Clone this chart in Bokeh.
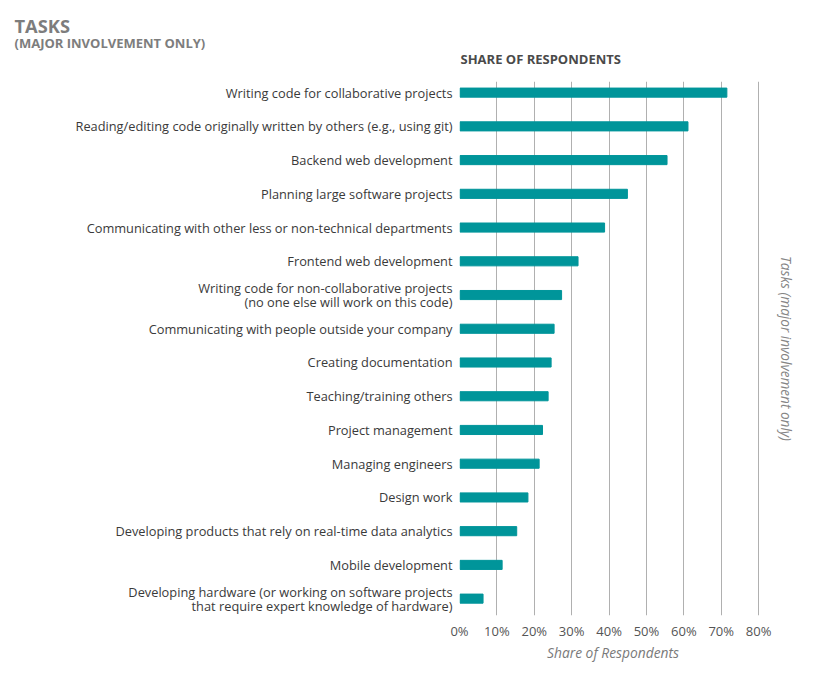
from bokeh.plotting import figure
from bokeh.layouts import column
from bokeh.models import Range1d, FixedTicker, LinearAxis, Label
from bokeh.embed import file_html
from bokeh.resources import INLINE

tasks = [
    "Writing code for collaborative projects",
    "Reading/editing code originally written by others (e.g., using git)",
    "Backend web development",
    "Planning large software projects",
    "Communicating with other less or non-technical departments",
    "Frontend web development",
    "Writing code for non-collaborative projects\n(no one else will work on this code)",
    "Communicating with people outside your company",
    "Creating documentation",
    "Teaching/training others",
    "Project management",
    "Managing engineers",
    "Design work",
    "Developing products that rely on real-time data analytics",
    "Mobile development",
    "Developing hardware (or working on software projects\nthat require expert knowledge of hardware)",
]
shares = [71.5, 61.1, 55.5, 44.9, 38.8, 31.7, 27.3, 25.3, 24.5, 23.7, 22.2, 21.3, 18.3, 15.3, 11.4, 6.3]
x_ticks = [0, 10, 20, 30, 40, 50, 60, 70, 80]

TEAL = "#00959a"
FONT = "Open Sans"
LEFT, FW, RIGHT = 459, 307, 54
HEAD_H = 81

n = len(tasks)
ypos = [n - 1 - i for i in range(n)]

# tick positions / labels for the y axis (two-line labels split into two ticks)
y_ticks = []
y_over = {}
for y, t in zip(ypos, tasks):
    lines = t.split("\n")
    if len(lines) == 1:
        y_ticks.append(y)
        y_over[y] = t
    else:
        for k, ln in enumerate(lines):
            yy = round(y + 0.21 - 0.42 * k, 2)
            y_ticks.append(yy)
            y_over[yy] = ln

# ---- header with the titles ----
head = figure(width=LEFT + FW + RIGHT, height=HEAD_H, output_backend="svg", toolbar_location=None,
              x_axis_type=None, y_axis_type=None, min_border=0,
              x_range=Range1d(0, 1), y_range=Range1d(0, 1),
              background_fill_color="white", border_fill_color="white")
head.frame_align = False
head.outline_line_color = None
head.grid.visible = False
head.add_layout(Label(x=14, y=HEAD_H - 25, x_units="screen", y_units="screen", text="TASKS",
                      text_font=FONT, text_font_style="bold", text_font_size="18.3px",
                      text_color="#7d7d7d", text_baseline="alphabetic"))
head.add_layout(Label(x=14, y=HEAD_H - 42.5, x_units="screen", y_units="screen",
                      text="(MAJOR INVOLVEMENT ONLY)",
                      text_font=FONT, text_font_style="bold", text_font_size="13px",
                      text_color="#7d7d7d", text_baseline="alphabetic"))
head.add_layout(Label(x=LEFT + 1, y=HEAD_H - 58, x_units="screen", y_units="screen",
                      text="SHARE OF RESPONDENTS",
                      text_font=FONT, text_font_style="bold", text_font_size="13px",
                      text_color="#4a4a4a", text_baseline="alphabetic"))

# ---- main chart ----
p = figure(frame_width=FW, frame_height=534, output_backend="svg", toolbar_location=None,
           x_range=Range1d(0, 82.1), y_range=Range1d(-0.5, 15.33),
           min_border_left=LEFT, min_border_right=RIGHT, min_border_top=0, min_border_bottom=55,
           background_fill_color="white", border_fill_color="white")
p.frame_align = False
p.outline_line_color = None

p.hbar(y=ypos, right=shares, left=0.15, height=0.27, color=TEAL)

# x axis
xa = p.xaxis[0]
xa.ticker = FixedTicker(ticks=x_ticks)
xa.major_label_overrides = {t: f"{t}%" for t in x_ticks}
xa.axis_line_color = None
xa.major_tick_line_color = None
xa.minor_tick_line_color = None
xa.major_tick_out = 0
xa.major_tick_in = 0
xa.major_label_standoff = 6
xa.major_label_text_font = FONT
xa.major_label_text_font_size = "13px"
xa.major_label_text_color = "#555555"
xa.axis_label = "Share of Respondents"
xa.axis_label_text_font = FONT
xa.axis_label_text_font_style = "italic"
xa.axis_label_text_font_size = "13.8px"
xa.axis_label_text_color = "#7a7a7a"
xa.axis_label_standoff = 0

# y axis
ya = p.yaxis[0]
ya.ticker = FixedTicker(ticks=y_ticks)
ya.major_label_overrides = y_over
ya.axis_line_color = None
ya.major_tick_line_color = None
ya.minor_tick_line_color = None
ya.major_tick_out = 0
ya.major_tick_in = 0
ya.major_label_standoff = 7
ya.major_label_text_font = FONT
ya.major_label_text_font_size = "12.8px"
ya.major_label_text_color = "#3a3a3a"

# right axis label
ra = LinearAxis(ticker=FixedTicker(ticks=[]), axis_line_color=None,
                major_tick_line_color=None, minor_tick_line_color=None,
                major_tick_out=0, major_tick_in=0,
                major_label_text_font_size="0px")
ra.axis_label = "Tasks (major involvement only)"
ra.axis_label_text_font = FONT
ra.axis_label_text_font_style = "italic"
ra.axis_label_text_font_size = "13.6px"
ra.axis_label_text_color = "#858585"
ra.axis_label_standoff = 10
p.add_layout(ra, "right")

p.ygrid.grid_line_color = None
p.xgrid.ticker = FixedTicker(ticks=x_ticks)
p.xgrid.grid_line_color = "#b0b0b0"
p.xgrid.grid_line_width = 1

layout = column(head, p, spacing=0)
open("out.html", "w").write(file_html(layout, INLINE))
